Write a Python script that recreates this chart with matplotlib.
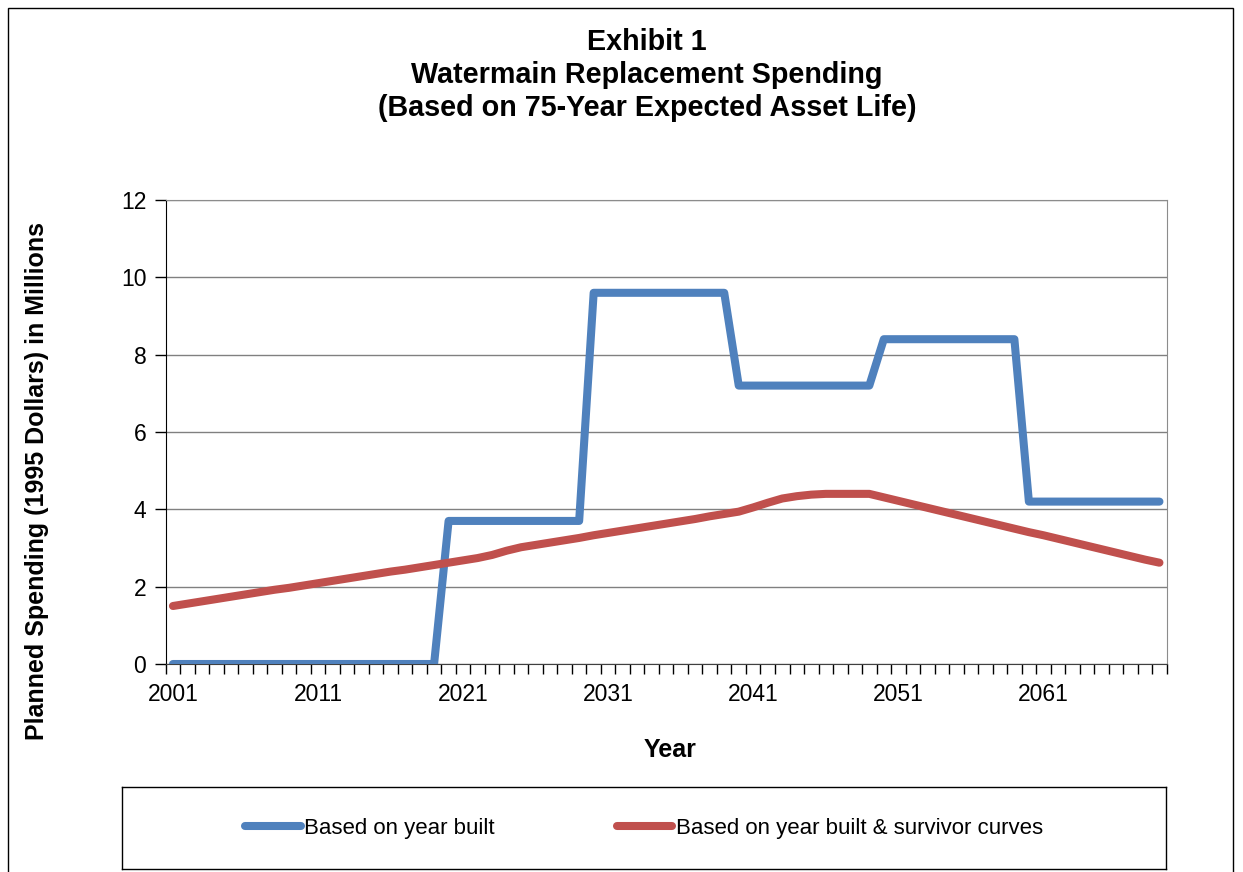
import matplotlib.pyplot as plt
from matplotlib.lines import Line2D
from matplotlib.patches import Rectangle
import numpy as np

plt.rcParams['font.family'] = ['Liberation Sans', 'DejaVu Sans']

years = list(range(2001, 2070))
built = [0.0] * 19 + [3.7] * 10 + [9.6] * 10 + [7.2] * 10 + [8.4] * 10 + [4.2] * 10
survivor = [1.50, 1.56, 1.62, 1.68, 1.74, 1.80, 1.86, 1.92, 1.97, 2.03,
            2.09, 2.15, 2.21, 2.27, 2.33, 2.39, 2.44, 2.50, 2.56, 2.62,
            2.68, 2.74, 2.82, 2.93, 3.02, 3.08, 3.14, 3.20, 3.26, 3.33,
            3.39, 3.45, 3.51, 3.57, 3.63, 3.69, 3.75, 3.82, 3.88, 3.94,
            4.05, 4.17, 4.28, 4.34, 4.38, 4.40, 4.40, 4.40, 4.40, 4.31,
            4.22, 4.13, 4.04, 3.95, 3.86, 3.77, 3.68, 3.59, 3.50, 3.41,
            3.33, 3.24, 3.15, 3.06, 2.97, 2.88, 2.79, 2.70, 2.62]
year_labels = [2001, 2011, 2021, 2031, 2041, 2051, 2061]
y_ticks = [0, 2, 4, 6, 8, 10, 12]
names = ["Based on year built", "Based on year built & survivor curves"]
colors = ["#4F81BD", "#C0504D"]

W, H = 1243, 872
fig = plt.figure(figsize=(W / 100, H / 100), dpi=100)

# outer chart border (bottom edge falls off the image)
fig.add_artist(Rectangle((8 / W, -0.05), (1233 - 8) / W, 1 - 8 / H + 0.05,
                         transform=fig.transFigure, fill=False,
                         edgecolor="#000000", lw=1))

ax = fig.add_axes([165.7 / W, 1 - 664 / H, (1166.7 - 165.7) / W, (664 - 200) / H])

for vals, c, n in zip([built, survivor], colors, names):
    ax.plot(years, vals, color=c, lw=5.8, solid_capstyle="round",
            solid_joinstyle="round", label=n, zorder=3)

ax.set_xlim(2000.5, 2069.5)
ax.set_ylim(0, 12)
ax.set_yticks(y_ticks)
ax.set_xticks(year_labels)
ax.set_xticks(np.arange(2000.5, 2070, 1), minor=True)
ax.tick_params(axis="x", which="major", length=0, pad=14, labelsize=16.5)
ax.tick_params(axis="x", which="minor", length=7, width=1, color="#000000", direction="out")
ax.tick_params(axis="y", length=8, width=1, pad=6, labelsize=16.5)

ax.grid(axis="y", color="#808080", lw=1)
ax.set_axisbelow(True)
ax.spines["left"].set_color("#000000")
ax.spines["bottom"].set_color("#404040")
ax.spines["right"].set_color("#8c8c8c")
ax.spines["top"].set_color("#8c8c8c")

# titles
title_x = 647 / W
for txt, yy in zip(["Exhibit 1", "Watermain Replacement Spending",
                    "(Based on 75-Year Expected Asset Life)"], [42, 75, 108]):
    fig.text(title_x, 1 - yy / H, txt, ha="center", va="center",
             fontsize=20.7, fontweight="bold")

fig.text(670 / W, 1 - 750 / H, "Year", ha="center", va="center",
         fontsize=18, fontweight="bold")
fig.text(37 / W, 1 - 481 / H, "Planned Spending (1995 Dollars) in Millions",
         ha="center", va="center", rotation=90, fontsize=18, fontweight="bold")

# legend box
lax = fig.add_axes([122 / W, 1 - 869 / H, (1166 - 122) / W, (869 - 787) / H])
lax.set_xticks([])
lax.set_yticks([])
for s in lax.spines.values():
    s.set_color("#000000")
    s.set_linewidth(1)
handles = [Line2D([0], [0], color=c, lw=5.8, solid_capstyle="round") for c in colors]
lax.legend(handles, names, loc="center", ncol=2, frameon=False, fontsize=16,
           handlelength=2.5, handletextpad=0.15, columnspacing=5.5)

fig.savefig("out.png", dpi=100)
